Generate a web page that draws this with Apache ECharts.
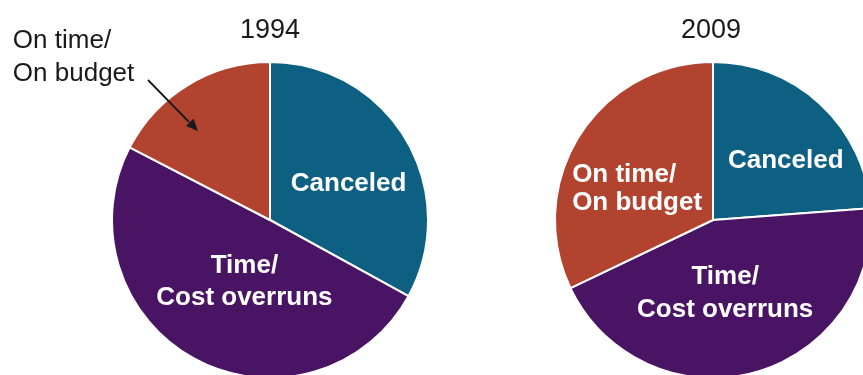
<!DOCTYPE html>
<html>
<head>
<meta charset="utf-8">
<script src="https://cdn.jsdelivr.net/npm/echarts@6/dist/echarts.min.js"></script>
<style>
html,body{margin:0;padding:0;background:#fff;}
#c{width:863px;height:375px;}
</style>
</head>
<body>
<div id="c"></div>
<script>
// Data
const years = ['1994', '2009'];
const categories = ['Canceled', 'Time/\nCost overruns', 'On time/\nOn budget'];
const values1994 = [33, 49.6, 17.4];
const values2009 = [23.8, 44.1, 32.1];

const colors = ['#0e6082', '#491463', '#b2432f'];
const FONT = '"Liberation Sans", Arial, Helvetica, sans-serif';

const whiteLbl = {
  show: true, position: 'inside', color: '#ffffff', fontFamily: FONT,
  fontWeight: 'bold', fontSize: 26
};

function leftAligned(width, color, weight, lh) {
  return {
    formatter: p => p.name.split('\n').map(s => '{a|' + s + '}').join('\n'),
    rich: { a: { width: width, align: 'left', color: color, fontWeight: weight,
                 fontSize: 26, fontFamily: FONT, lineHeight: lh } }
  };
}

function mk(vals, labelOpts) {
  return vals.map((v, i) => ({
    name: categories[i], value: v,
    itemStyle: { color: colors[i] },
    label: Object.assign({}, whiteLbl, labelOpts[i])
  }));
}

const data1994 = mk(values1994, [
  { offset: [8, 6] },
  { offset: [13, -11], lineHeight: 32 },
  Object.assign({ offset: [-153.5, -92.5], color: '#1a1a1a', fontWeight: 'normal', lineHeight: 33 },
    leftAligned(122, '#1a1a1a', 'normal', 33))
]);
const data2009 = mk(values2009, [
  { offset: [17, 1] },
  { offset: [-9, -6], lineHeight: 33 },
  Object.assign({ offset: [-6, 13], lineHeight: 28 },
    leftAligned(131, '#ffffff', 'bold', 28))
]);

const chart = echarts.init(document.getElementById('c'), null, { renderer: 'canvas' });
chart.setOption({
  backgroundColor: '#ffffff',
  animation: false,
  title: [
    { text: years[0], left: 265, top: 12, textAlign: 'center',
      textStyle: { fontFamily: FONT, fontWeight: 'normal', fontSize: 27, color: '#1a1a1a' } },
    { text: years[1], left: 706, top: 12, textAlign: 'center',
      textStyle: { fontFamily: FONT, fontWeight: 'normal', fontSize: 27, color: '#1a1a1a' } }
  ],
  series: [
    {
      type: 'pie', radius: 158, center: [270, 220], startAngle: 90, clockwise: true,
      avoidLabelOverlap: false, silent: true,
      itemStyle: { borderColor: '#ffffff', borderWidth: 2 },
      labelLine: { show: false },
      data: data1994
    },
    {
      type: 'pie', radius: 158, center: [713, 220], startAngle: 90, clockwise: true,
      avoidLabelOverlap: false, silent: true,
      itemStyle: { borderColor: '#ffffff', borderWidth: 2 },
      labelLine: { show: false },
      data: data2009
    }
  ],
  graphic: [
    { type: 'line', shape: { x1: 148, y1: 80, x2: 189, y2: 122 },
      style: { stroke: '#1a1a1a', lineWidth: 1.8 }, z: 100 },
    { type: 'polygon', shape: { points: [[198, 131], [186, 126], [193.5, 118.5]] },
      style: { fill: '#1a1a1a' }, z: 100 }
  ]
});
</script>
</body>
</html>
